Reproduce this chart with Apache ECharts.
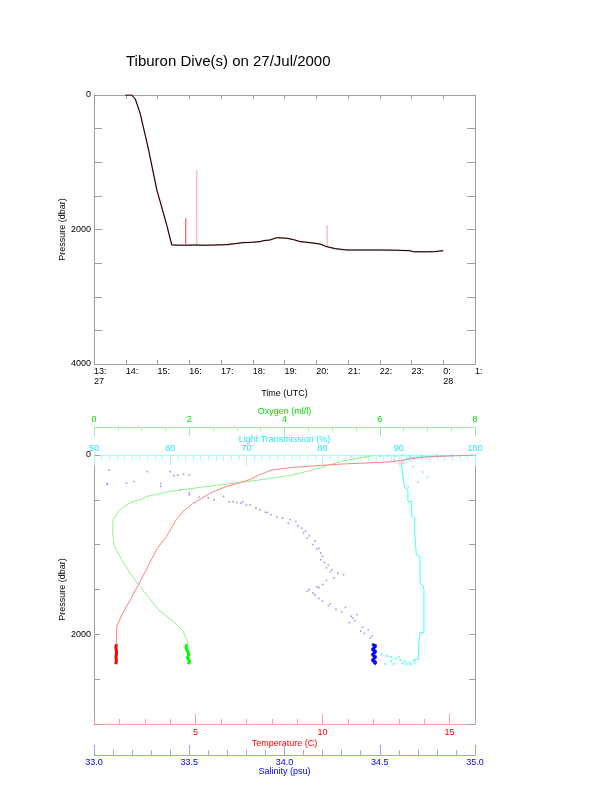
<!DOCTYPE html>
<html><head><meta charset="utf-8">
<script src="https://cdn.jsdelivr.net/npm/echarts@6/dist/echarts.min.js"></script>
<style>html,body{margin:0;padding:0;background:#fff}#c{width:612px;height:785px}</style>
</head><body><div id="c"></div>
<script>
const titleText = 'Tiburon Dive(s) on 27/Jul/2000';

// ---- top panel: pressure vs time (hours, 24 = 0:00 on the 28th)
const diveHours = [13.98,14.19,14.30,14.45,14.70,14.98,15.14,15.30,15.45,15.89,16.13,16.50,17.18,17.45,17.70,18.00,18.23,18.35,18.54,18.75,18.90,19.07,19.28,19.49,19.80,20.12,20.33,20.60,20.96,21.50,22.00,22.50,22.95,23.06,23.40,23.69,24.00];
const divePressure = [0,0,60,268,773,1413,1680,1950,2230,2235,2230,2235,2225,2210,2195,2190,2180,2165,2156,2122,2125,2130,2150,2180,2195,2216,2255,2285,2305,2305,2305,2308,2315,2330,2332,2330,2315];
const spikeHours = [15.89, 16.24, 20.34];
const spikeTop = [1830, 1125, 1933];
const spikeBase = [2235, 2232, 2255];

// ---- bottom panel profiles
const tempC = [15.9,15.3,14.6,14.0,13.4,12.76,11.8,10.8,9.6,8.7,8.0,7.5,7.1,6.6,6.2,5.6,4.9,4.5,4.24,3.85,3.46,3.06,2.73,2.47,2.30,2.14,1.90,1.88,1.88];
const tempP = [3,8,15,25,45,74,88,100,122,141,167,222,278,320,352,422,540,630,722,908,1055,1278,1455,1592,1680,1756,1908,2074,2111];
const deepTempC = [1.88,1.86,1.89,1.87,1.88,1.86];
const deepTempP = [2111,2150,2200,2250,2300,2333];

const oxyML = [5.9,5.6,5.2,4.74,4.18,3.6,3.2,2.36,1.6,1.1,0.96,0.75,0.54,0.40,0.39,0.43,0.58,0.75,0.96,1.13,1.38,1.66,1.87,1.97,1.97];
const oxyP = [5,30,70,144,222,270,296,352,405,463,500,533,611,722,870,1019,1167,1314,1463,1574,1741,1852,1963,2092,2111];
const oxyScatterML = [6.3,6.5,6.7,6.9,7.0,6.8,6.6,5.4,5.7,6.0];
const oxyScatterP = [55,90,130,190,250,300,355,20,15,10];
const deepOxyML = [1.95,1.93,1.97,1.99,1.96,2.01,1.98];
const deepOxyP = [2111,2150,2190,2230,2260,2300,2333];

const salPSU = [33.08,33.07,33.17,33.28,33.40,33.44,33.50,33.35,33.50,33.71,33.78,33.07,33.21,33.35,33.45,33.50,33.68,33.73,33.77,33.82,33.87,33.93,33.99,34.06,34.09,34.12,34.15,34.19,34.19,34.22,34.31,34.26,34.20,34.13,34.12,34.20,34.27,34.38,34.34,34.40,34.46,33.60,33.90,34.02,34.10,34.17,34.21,34.24,34.17,34.16,34.23,34.30,34.36,34.42,
  33.42,33.47,33.55,33.63,33.75,33.80,33.85,33.91,33.96,34.03,34.07,34.11,34.13,34.16,34.18,34.20,34.23,34.25,34.28,34.22,34.18,34.15,34.18,34.24,34.32,34.35,34.37,34.41,34.44,34.45];
const salP = [167,322,311,185,185,222,222,352,422,522,522,322,296,320,389,444,463,518,537,555,611,667,703,741,815,926,1000,1092,1167,1259,1333,1370,1444,1500,1519,1630,1722,1778,1870,1963,2019,480,640,760,870,1050,1200,1300,1470,1560,1680,1750,1820,1990,
  230,215,470,500,530,560,590,640,690,720,790,850,900,960,1040,1130,1230,1280,1320,1400,1480,1540,1600,1660,1700,1800,1850,1920,1950,2040];
const deepSalPSU = [34.46,34.48,34.47,34.46,34.48,34.47,34.46,34.48,34.47,34.46,34.48,34.47];
const deepSalP = [2111,2130,2150,2170,2190,2210,2230,2250,2270,2290,2310,2333];

const ltPct = [100,98,96,93.5,91.5,90.5,90.3,90.4,90.6,90.8,91.2,91.2,91.7,91.7,92.1,92.1,92.3,92.3,92.8,92.8,93.2,93.3,93.3,92.8,92.6,92.6,92.1,92.1];
const ltP = [3,6,10,18,30,60,100,130,278,367,389,518,520,685,703,870,889,1111,1130,1426,1463,1500,1978,1981,2111,2278,2280,2333];
const ltScatterPct = [87.7,88.4,89.0,89.6,90.2,90.8,91.4,88.2,89.3,90.5,91.6,92.0,90.0,91.0,89.0,87.6,88.5,89.5,90.5,91.5,93,95,97];
const ltScatterP = [2222,2240,2255,2270,2285,2300,2315,2330,2333,2325,2333,2290,2250,2333,2300,12,8,15,5,10,6,4,3];

// tick labels
const timeTickLabels = {13:'13:\n27',14:'14:',15:'15:',16:'16:',17:'17:',18:'18:',19:'19:',20:'20:',21:'21:',22:'22:',23:'23:',24:'0:\n28',25:'1:'};
const topPressureLabels = [0, 2000, 4000];
const bottomPressureLabels = [0, 2000];
const tempLabels = [5, 10, 15];

const zip = (a, b) => a.map((v, i) => [v, b[i]]);
const FONT = 'Liberation Sans, Arial, sans-serif';
const GRAY = '#a0a0a0';

const chart = echarts.init(document.getElementById('c'));
const axisBase = (extra) => Object.assign({
  type: 'value', splitLine: {show: false}, nameMoveOverlap: false,
  axisLine: {show: true, onZero: false, lineStyle: {color: GRAY, width: 1}},
  axisTick: {show: true, inside: true, length: 4, lineStyle: {color: GRAY}},
  axisLabel: {show: false, fontFamily: FONT, fontSize: 9, color: '#000'},
  nameTextStyle: {fontFamily: FONT, fontSize: 9, color: '#000'}
}, extra);

const series = [];
spikeHours.forEach((h, i) => {
  series.push({type: 'line', xAxisIndex: 0, yAxisIndex: 0, symbol: 'none', silent: true,
    data: [[h, spikeBase[i]], [h, spikeTop[i]]],
    lineStyle: {color: i === 0 ? '#e84040' : '#f4a0a0', width: 1}});
});
series.push({type: 'line', xAxisIndex: 0, yAxisIndex: 0, symbol: 'none', data: zip(diveHours, divePressure),
  lineStyle: {color: '#e07070', width: 1.6, opacity: 0.6}});
series.push({type: 'line', xAxisIndex: 0, yAxisIndex: 0, symbol: 'none', data: zip(diveHours, divePressure),
  lineStyle: {color: '#000000', width: 1}});

// bottom
series.push({type: 'line', xAxisIndex: 6, yAxisIndex: 2, symbol: 'none', data: zip(ltPct, ltP), lineStyle: {color: '#40ffff', width: 1}});
series.push({type: 'scatter', xAxisIndex: 6, yAxisIndex: 2, symbol: 'rect', symbolSize: 2, data: zip(ltScatterPct, ltScatterP), itemStyle: {color: '#40ffff'}});
series.push({type: 'line', xAxisIndex: 5, yAxisIndex: 2, symbol: 'none', data: zip(oxyML, oxyP), lineStyle: {color: '#90f090', width: 1}});
series.push({type: 'scatter', xAxisIndex: 5, yAxisIndex: 2, symbol: 'rect', symbolSize: 2, data: zip(oxyScatterML, oxyScatterP), itemStyle: {color: '#a0f0a0'}});
series.push({type: 'line', xAxisIndex: 5, yAxisIndex: 2, symbol: 'none', data: zip(deepOxyML, deepOxyP), lineStyle: {color: '#00ff00', width: 3}});
series.push({type: 'line', xAxisIndex: 2, yAxisIndex: 2, symbol: 'none', data: zip(tempC, tempP), lineStyle: {color: '#ff8080', width: 1}});
series.push({type: 'line', xAxisIndex: 2, yAxisIndex: 2, symbol: 'none', data: zip(deepTempC, deepTempP), lineStyle: {color: '#ff0000', width: 3}});
series.push({type: 'scatter', xAxisIndex: 4, yAxisIndex: 2, symbol: 'rect', symbolSize: 1.6, data: zip(salPSU, salP), itemStyle: {color: '#8080ff'}});
series.push({type: 'line', xAxisIndex: 4, yAxisIndex: 2, symbol: 'none', data: zip(deepSalPSU, deepSalP), lineStyle: {color: '#0000ff', width: 3}});

chart.setOption({
  animation: false,
  backgroundColor: '#fff',
  title: {text: titleText, left: 121, top: 49, textStyle: {fontFamily: FONT, fontSize: 15, fontWeight: 'normal', color: '#000'}},
  grid: [{left: 94, top: 95, width: 381, height: 269}, {left: 94, top: 455, width: 381, height: 269}],
  xAxis: [
    axisBase({gridIndex: 0, position: 'bottom', min: 13, max: 25, interval: 1,
      axisLabel: {show: true, fontFamily: FONT, fontSize: 9, color: '#000', align: 'left', margin: 3, lineHeight: 10,
        formatter: v => timeTickLabels[v] || ''},
      name: 'Time (UTC)', nameLocation: 'middle', nameGap: 25}),
    axisBase({gridIndex: 0, position: 'top', min: 13, max: 25, interval: 1}),
    axisBase({gridIndex: 1, position: 'bottom', offset: 0, min: 1, max: 16, interval: 1,
      axisLine: {show: true, onZero: false, lineStyle: {color: '#f0a0a0'}},
      axisTick: {show: true, inside: true, length: 5, lineStyle: {color: '#f0a0a0'}},
      axisLabel: {show: true, fontFamily: FONT, fontSize: 9, color: '#ff0000', margin: 4,
        formatter: v => tempLabels.includes(v) ? String(v) : ''},
      name: 'Temperature (C)', nameLocation: 'middle', nameGap: 15,
      nameTextStyle: {fontFamily: FONT, fontSize: 9, color: '#ff0000'}}),
    axisBase({gridIndex: 1, position: 'bottom', offset: 0, min: 1, max: 16,
      axisLine: {show: false, onZero: false},
      axisTick: {show: true, inside: true, length: 10, customValues: tempLabels, lineStyle: {color: '#f0a0a0'}},
      axisLabel: {show: false}}),
    axisBase({gridIndex: 1, position: 'bottom', offset: 31, min: 33, max: 35, interval: 0.5,
      axisLine: {show: true, onZero: false, lineStyle: {color: '#a0a0ff'}},
      axisTick: {show: true, inside: true, length: 10, lineStyle: {color: '#a0a0ff'}},
      minorTick: {show: true, splitNumber: 5, length: 5, lineStyle: {color: '#a0a0ff'}},
      axisLabel: {show: true, fontFamily: FONT, fontSize: 9, color: '#0000ff', margin: 3, formatter: v => v.toFixed(1)},
      name: 'Salinity (psu)', nameLocation: 'middle', nameGap: 12,
      nameTextStyle: {fontFamily: FONT, fontSize: 9, color: '#0000ff'}}),
    axisBase({gridIndex: 1, position: 'top', offset: 28, min: 0, max: 8, interval: 2,
      axisLine: {show: true, onZero: false, lineStyle: {color: '#a0f0a0'}},
      axisTick: {show: true, inside: true, length: 9, lineStyle: {color: '#a0f0a0'}},
      minorTick: {show: true, splitNumber: 4, length: 4, lineStyle: {color: '#a0f0a0'}},
      axisLabel: {show: true, fontFamily: FONT, fontSize: 9, color: '#00e000', margin: 3},
      name: 'Oxygen (ml/l)', nameLocation: 'middle', nameGap: 11,
      nameTextStyle: {fontFamily: FONT, fontSize: 9, color: '#00e000'}}),
    axisBase({gridIndex: 1, position: 'top', offset: 0, min: 50, max: 100, interval: 10,
      axisLine: {show: true, onZero: false, lineStyle: {color: '#a0ffff'}},
      axisTick: {show: true, inside: true, length: 11, lineStyle: {color: '#a0ffff'}},
      minorTick: {show: true, splitNumber: 10, length: 6, lineStyle: {color: '#a0ffff'}},
      axisLabel: {show: true, fontFamily: FONT, fontSize: 9, color: '#20e8ff', margin: 2},
      name: 'Light Transmission (%)', nameLocation: 'middle', nameGap: 11,
      nameTextStyle: {fontFamily: FONT, fontSize: 9, color: '#20e8ff'}})
  ],
  yAxis: [
    axisBase({gridIndex: 0, position: 'left', inverse: true, min: 0, max: 4000, interval: 500,
      axisTick: {show: true, inside: true, length: 8, lineStyle: {color: GRAY}},
      axisLabel: {show: true, fontFamily: FONT, fontSize: 9, color: '#000', margin: 3,
        formatter: v => topPressureLabels.includes(v) ? String(v) : ''},
      name: 'Pressure (dbar)', nameLocation: 'middle', nameGap: 27}),
    axisBase({gridIndex: 0, position: 'right', inverse: true, min: 0, max: 4000, interval: 500,
      axisTick: {show: true, inside: true, length: 8, lineStyle: {color: GRAY}}}),
    axisBase({gridIndex: 1, position: 'left', inverse: true, min: 0, max: 3000, interval: 500,
      axisTick: {show: true, inside: true, length: 6, lineStyle: {color: GRAY}},
      axisLabel: {show: true, fontFamily: FONT, fontSize: 9, color: '#000', margin: 3,
        formatter: v => bottomPressureLabels.includes(v) ? String(v) : ''},
      name: 'Pressure (dbar)', nameLocation: 'middle', nameGap: 27}),
    axisBase({gridIndex: 1, position: 'right', inverse: true, min: 0, max: 3000, interval: 500,
      axisTick: {show: true, inside: true, length: 6, lineStyle: {color: GRAY}}})
  ],
  series: series
});
</script>
</body></html>
